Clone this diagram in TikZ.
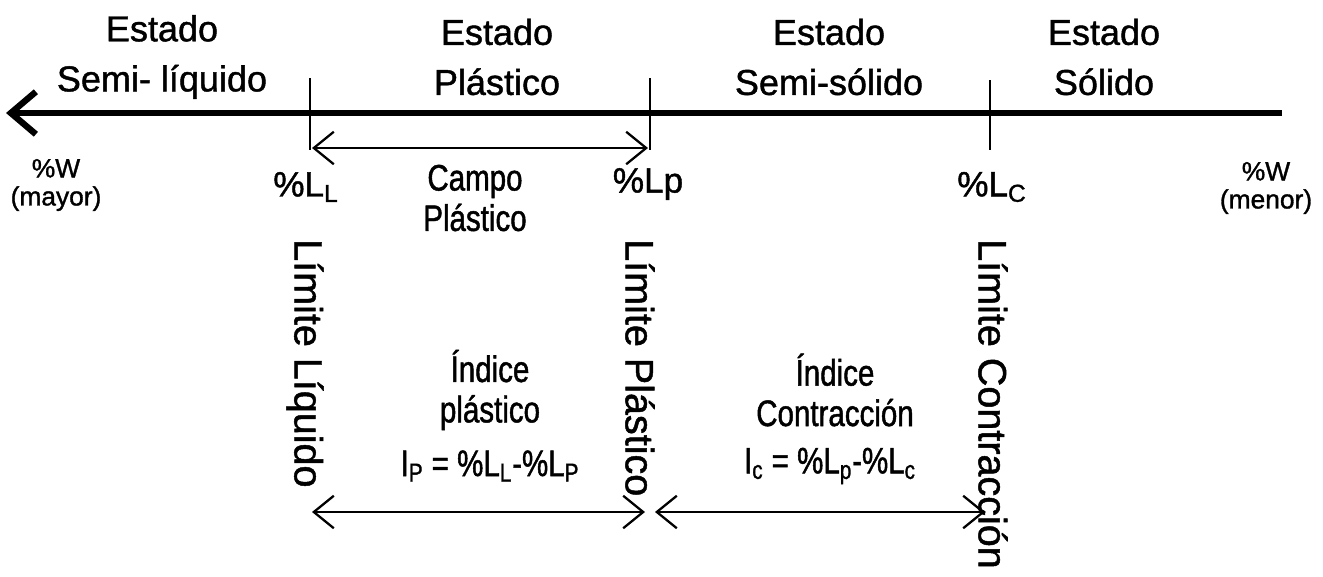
\documentclass[tikz,border=0pt]{standalone}
\usepackage{fontspec}
\setmainfont{Liberation Sans}[FakeBold=1.2]
\newfontfamily\narrowfont{Liberation Sans}[FakeStretch=0.8,FakeBold=1.2]
\usetikzlibrary{arrows.meta,positioning}

\tikzset{
  statelabel/.style={align=center, font=\fontsize{20.5}{28.5}\selectfont},
  wlabel/.style={align=center, font=\fontsize{15}{16}\selectfont},
  limlabel/.style={font=\fontsize{20}{24}\selectfont},
  limtext/.style={rotate=-90, anchor=west, font=\fontsize{22.5}{26}\selectfont},
  idxlabel/.style={align=center, font=\narrowfont\fontsize{21}{23}\selectfont},
  mainaxis/.style={line width=3.6pt, -{Straight Barb[length=5mm,width=8.5mm]}},
  limtick/.style={line width=1.6pt},
  spanarrow/.style={line width=1.3pt, {Straight Barb[length=4mm,width=6.5mm]}-{Straight Barb[length=4mm,width=6.5mm]}}
}

\begin{document}
\begin{tikzpicture}[x=0.02cm, y=-0.02cm]
\useasboundingbox (0,0) rectangle (1323,576);

% axis and limit ticks
\coordinate (axisR) at (1282,113);
\coordinate (axisL) at (6,113);
\draw[mainaxis] (axisR) -- (axisL);
\coordinate (LLtop) at (310,78);   \coordinate (LLbot) at (310,150);
\coordinate (LPtop) at (650,78);   \coordinate (LPbot) at (650,150);
\coordinate (LCtop) at (990,80);   \coordinate (LCbot) at (990,150);
\draw[limtick] (LLtop) -- (LLbot);
\draw[limtick] (LPtop) -- (LPbot);
\draw[limtick] (LCtop) -- (LCbot);
\coordinate (campoL) at (312,148);
\coordinate (campoR) at (648,148);
\draw[spanarrow] (campoL) -- (campoR);

% states
\node[statelabel] (semiliq) at (162,57) {Estado\\Semi- l\'{\i}quido};
\node[statelabel] (plast)   at (497,57) {Estado\\Pl\'astico};
\node[statelabel] (semisol) at (829,57) {Estado\\Semi-s\'olido};
\node[statelabel] (solido)  at (1104,57) {Estado\\S\'olido};

% moisture labels
\node[wlabel] (wmayor) at (56,185) {\%W\\(mayor)};
\node[wlabel] (wmenor) at (1266,188) {\%W\\(menor)};
\node[limlabel] (pLL) at (306,187) {\%L\textsubscript{L}};
\node[limlabel] (pLP) at (648,184) {\%Lp};
\node[limlabel] (pLC) at (992,187) {\%L\textsubscript{C}};
\node[idxlabel] (campo) at (475,198) {Campo\\Pl\'astico};

% limit names
\node[limtext] (limLL) at (305,233) {L\'{\i}mite L\'{\i}quido};
\node[limtext] (limLP) at (640,233) {L\'{\i}mite Pl\'astico};
\node[limtext] (limLC) at (993,233) {L\'{\i}mite Contracci\'on};

% indices
\node[idxlabel] (ipname) at (490,390) {\'Indice\\pl\'astico};
\node[idxlabel] (ipform) at (490,466) {I\textsubscript{P} = \%L\textsubscript{L}-\%L\textsubscript{P}};
\node[idxlabel] (icname) at (835,390) {\'Indice\\Contracci\'on};
\node[idxlabel] (icform) at (830,466) {I\textsubscript{c} = \%L\textsubscript{p}-\%L\textsubscript{c}};
\coordinate (ipL) at (312,512); \coordinate (ipR) at (645,512);
\coordinate (icL) at (655,512); \coordinate (icR) at (985,512);
\draw[spanarrow] (ipL) -- (ipR);
\draw[spanarrow] (icL) -- (icR);
\end{tikzpicture}
\end{document}
